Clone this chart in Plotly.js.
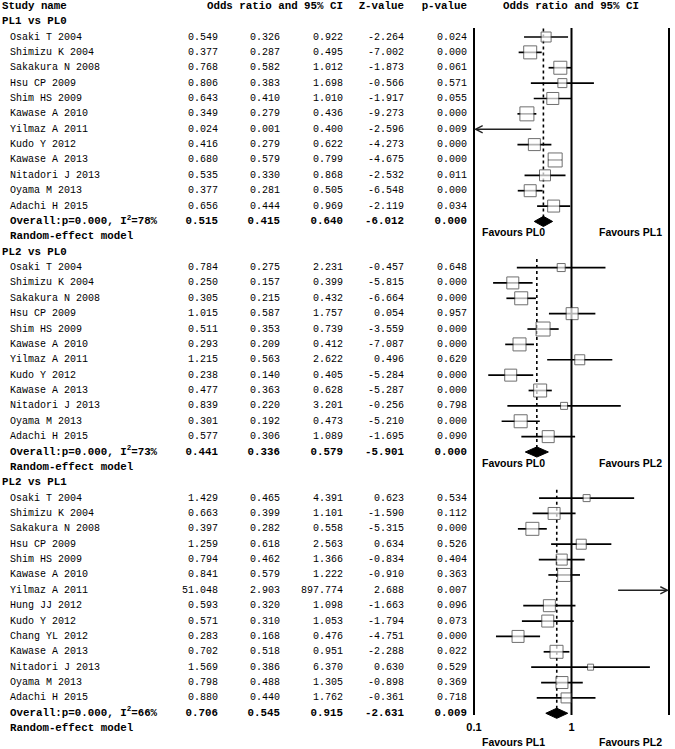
<!DOCTYPE html>
<html><head><meta charset="utf-8">
<script src="https://cdn.plot.ly/plotly-3.0.1.min.js"></script>
<style>html,body{margin:0;padding:0;background:#fff}#chart{width:675px;height:749px}</style>
</head><body><div id="chart"></div>
<script>
// ---------------- DATA ----------------
const groupNames = ["PL1 vs PL0", "PL2 vs PL0", "PL2 vs PL1"];

const studies1 = ["Osaki T 2004","Shimizu K 2004","Sakakura N 2008","Hsu CP 2009","Shim HS 2009","Kawase A 2010","Yilmaz A 2011","Kudo Y 2012","Kawase A 2013","Nitadori J 2013","Oyama M 2013","Adachi H 2015"];
const or1 = [0.549,0.377,0.768,0.806,0.643,0.349,0.024,0.416,0.680,0.535,0.377,0.656];
const lo1 = [0.326,0.287,0.582,0.383,0.410,0.279,0.001,0.279,0.579,0.330,0.281,0.444];
const hi1 = [0.922,0.495,1.012,1.698,1.010,0.436,0.400,0.622,0.799,0.868,0.505,0.969];
const z1  = [-2.264,-7.002,-1.873,-0.566,-1.917,-9.273,-2.596,-4.273,-4.675,-2.532,-6.548,-2.119];
const p1  = [0.024,0.000,0.061,0.571,0.055,0.000,0.009,0.000,0.000,0.011,0.000,0.034];
const weight1 = [9.2,15.5,15.5,7.4,13.2,18.0,1.0,13.2,18.0,11.1,13.2,13.2];

const studies2 = ["Osaki T 2004","Shimizu K 2004","Sakakura N 2008","Hsu CP 2009","Shim HS 2009","Kawase A 2010","Yilmaz A 2011","Kudo Y 2012","Kawase A 2013","Nitadori J 2013","Oyama M 2013","Adachi H 2015"];
const or2 = [0.784,0.250,0.305,1.015,0.511,0.293,1.215,0.238,0.477,0.839,0.301,0.577];
const lo2 = [0.275,0.157,0.215,0.587,0.353,0.209,0.563,0.140,0.363,0.220,0.192,0.306];
const hi2 = [2.231,0.399,0.432,1.757,0.739,0.412,2.622,0.405,0.628,3.201,0.473,1.089];
const z2  = [-0.457,-5.815,-6.664,0.054,-3.559,-7.087,0.496,-5.284,-5.287,-0.256,-5.210,-1.695];
const p2  = [0.648,0.000,0.000,0.957,0.000,0.000,0.620,0.000,0.000,0.798,0.000,0.090];
const weight2 = [5.9,13.2,15.5,13.2,18.0,15.5,9.2,13.2,15.5,4.5,15.5,13.2];

const studies3 = ["Osaki T 2004","Shimizu K 2004","Sakakura N 2008","Hsu CP 2009","Shim HS 2009","Kawase A 2010","Yilmaz A 2011","Hung JJ 2012","Kudo Y 2012","Chang YL 2012","Kawase A 2013","Nitadori J 2013","Oyama M 2013","Adachi H 2015"];
const or3 = [1.429,0.663,0.397,1.259,0.794,0.841,51.048,0.593,0.571,0.283,0.702,1.569,0.798,0.880];
const lo3 = [0.465,0.399,0.282,0.618,0.462,0.579,2.903,0.320,0.310,0.168,0.518,0.386,0.488,0.440];
const hi3 = [4.391,1.101,0.558,2.563,1.366,1.222,897.774,1.098,1.053,0.476,0.951,6.370,1.305,1.762];
const z3  = [0.623,-1.590,-5.315,0.634,-0.834,-0.910,2.688,-1.663,-1.794,-4.751,-2.288,0.630,-0.898,-0.361];
const p3  = [0.534,0.112,0.000,0.526,0.404,0.363,0.007,0.096,0.073,0.000,0.022,0.529,0.369,0.718];
const weight3 = [4.5,13.2,15.5,9.2,11.1,15.5,1.0,13.2,13.2,13.2,15.5,3.3,13.2,9.2];

const overallOR = [0.515,0.441,0.706];
const overallLo = [0.415,0.336,0.545];
const overallHi = [0.640,0.579,0.915];
const overallZ  = [-6.012,-5.901,-2.631];
const overallP  = [0.000,0.000,0.009];
const heterogeneityP = [0.000,0.000,0.000];
const overallI2 = [78,73,66];

const favoursLeft  = ["Favours PL0","Favours PL0","Favours PL1"];
const favoursRight = ["Favours PL1","Favours PL2","Favours PL2"];

const headerLabels = ["Study name","Odds ratio and 95% CI","Z-value","p-value","Odds ratio and 95% CI"];
const axisTicks = [0.1, 1, 10];
const axisTickText = ["0.1","1","10"];

// ---------------- LAYOUT HELPERS ----------------
const W = 675, H = 749;
const rowPx0 = 37, rowStep = 15.37;               // row 3 centre & spacing (px)
const rowFromPx = px => 3 + (px - rowPx0) / rowStep;
const yTop = rowFromPx(0), yBot = rowFromPx(H);
const MONO = "Liberation Mono, Courier New, monospace";
const SANS = "Liberation Sans, Arial, sans-serif";
const colRight = [218, 280, 343, 404, 467];          // right edges of numeric columns
const xLogMin = -1.041, xLogMax = 1.041;              // axis range (log10)
const fmt = v => v.toFixed(3);

const groups = [
  {names: studies1, or: or1, lo: lo1, hi: hi1, z: z1, p: p1, w: weight1},
  {names: studies2, or: or2, lo: lo2, hi: hi2, z: z2, p: p2, w: weight2},
  {names: studies3, or: or3, lo: lo3, hi: hi3, z: z3, p: p3, w: weight3}
];

const nameReg = {x: [], y: [], t: []};
const nameBold = {x: [], y: [], t: []};
const numReg = {x: [], y: [], t: []};
const numBold = {x: [], y: [], t: []};

const ciX = [], ciY = [];
const sqX = [], sqY = [], sqS = [];
const dmX = [], dmY = [];
const dotX = [], dotY = [];
const annotations = [];

nameBold.x.push(2); nameBold.y.push(1); nameBold.t.push(headerLabels[0]);
[[headerLabels[1], colRight[2]], [headerLabels[2], colRight[3]], [headerLabels[3], colRight[4]]].forEach(([t, x]) => {
  numBold.x.push(x); numBold.y.push(1); numBold.t.push(t);
});

const arrowStyle = {xref: 'x', yref: 'y', axref: 'x', ayref: 'y', text: '', showarrow: true,
  arrowhead: 5, arrowsize: 1, arrowwidth: 1.4, arrowcolor: '#222', standoff: 0, startstandoff: 0};

let row = 2;
groups.forEach((g, gi) => {
  nameBold.x.push(2); nameBold.y.push(row); nameBold.t.push(groupNames[gi]);
  row++;
  const firstRow = row;
  g.names.forEach((nm, i) => {
    nameReg.x.push(10); nameReg.y.push(row); nameReg.t.push(nm);
    [g.or[i], g.lo[i], g.hi[i], g.z[i], g.p[i]].forEach((v, c) => {
      numReg.x.push(colRight[c]); numReg.y.push(row); numReg.t.push(fmt(v));
    });
    const lo = g.lo[i], hi = g.hi[i];
    const lLo = Math.log10(lo), lHi = Math.log10(hi);
    if (lLo < -1) {
      annotations.push({...arrowStyle, x: -1, y: row, ax: lHi, ay: row});
    } else if (lHi > 1) {
      annotations.push({...arrowStyle, x: 1, y: row, ax: lLo, ay: row});
    } else {
      ciX.push(lo, hi, null); ciY.push(row, row, null);
    }
    sqX.push(g.or[i]); sqY.push(row); sqS.push(3.3 * Math.sqrt(g.w[i]));
    row++;
  });
  nameBold.x.push(10); nameBold.y.push(row);
  nameBold.t.push("Overall:p=" + fmt(heterogeneityP[gi]) + ", I<sup>2</sup>=" + overallI2[gi] + "%");
  [overallOR[gi], overallLo[gi], overallHi[gi], overallZ[gi], overallP[gi]].forEach((v, c) => {
    numBold.x.push(colRight[c]); numBold.y.push(row); numBold.t.push(fmt(v));
  });
  const hh = 0.33;
  dmX.push(overallLo[gi], overallOR[gi], overallHi[gi], overallOR[gi], overallLo[gi], null);
  dmY.push(row, row - hh, row, row + hh, row, null);
  dotX.push(overallOR[gi], overallOR[gi], null);
  dotY.push(firstRow - 0.55, row, null);
  row++;
  nameBold.x.push(10); nameBold.y.push(row); nameBold.t.push("Random-effect model");
  const favY = gi < 2 ? { yref: 'y', y: row - 0.3 } : { yref: 'paper', y: 1 - 742 / H };
  const favFont = {family: SANS, size: 10.5, color: '#000', weight: 'bold'};
  annotations.push({xref: 'x', x: -0.6, ...favY, text: favoursLeft[gi], showarrow: false,
    font: favFont, xanchor: 'center', yanchor: 'middle'});
  annotations.push({xref: 'x', x: 0.6, ...favY, text: favoursRight[gi], showarrow: false,
    font: favFont, xanchor: 'center', yanchor: 'middle'});
  row++;
});

const refTop = rowFromPx(28), refBot = rowFromPx(715);
const refX = [], refY = [];
axisTicks.forEach(t => { refX.push(t, t, null); refY.push(refTop, refBot, null); });

const textTrace = (c, pos, size, bold) => ({
  type: 'scatter', mode: 'text', xaxis: 'x2', yaxis: 'y', x: c.x, y: c.y, text: c.t,
  textposition: pos, hoverinfo: 'skip', cliponaxis: false,
  textfont: {family: MONO, size: size, color: '#000', weight: bold ? 'bold' : 'normal'}
});

const traces = [
  textTrace(nameReg, 'middle right', 10, false),
  textTrace(nameBold, 'middle right', 10.8, true),
  textTrace(numReg, 'middle left', 10, false),
  textTrace(numBold, 'middle left', 10.8, true),
  {type: 'scatter', mode: 'text', xaxis: 'x2', yaxis: 'y', x: [571], y: [1], text: [headerLabels[4]],
   textposition: 'middle center', hoverinfo: 'skip', cliponaxis: false,
   textfont: {family: MONO, size: 10.8, color: '#000', weight: 'bold'}},
  {type: 'scatter', mode: 'lines', x: refX, y: refY, line: {color: '#000', width: 2}, hoverinfo: 'skip'},
  {type: 'scatter', mode: 'lines', x: dotX, y: dotY, line: {color: '#000', width: 1.6, dash: 'dot'}, hoverinfo: 'skip'},
  {type: 'scatter', mode: 'lines', x: ciX, y: ciY, line: {color: '#000', width: 1.7}, hoverinfo: 'skip'},
  {type: 'scatter', mode: 'markers', x: sqX, y: sqY,
   marker: {symbol: 'square', size: sqS, color: '#fff', line: {color: '#333', width: 1}}, hoverinfo: 'skip'},
  {type: 'scatter', mode: 'lines', x: dmX, y: dmY, fill: 'toself', fillcolor: '#000',
   line: {color: '#000', width: 1}, hoverinfo: 'skip'}
];

const layout = {
  width: W, height: H, margin: {l: 0, r: 0, t: 0, b: 0},
  paper_bgcolor: '#fff', plot_bgcolor: 'rgba(0,0,0,0)', showlegend: false,
  xaxis: {type: 'log', domain: [470 / W, 673 / W], range: [xLogMin, xLogMax],
    anchor: 'free', position: 1 - 719 / H, showgrid: false, zeroline: false, showline: false,
    ticks: '', tickvals: axisTicks, ticktext: axisTickText,
    tickfont: {family: SANS, size: 11, color: '#000', weight: 'bold'}, fixedrange: true},
  xaxis2: {domain: [0, 1], range: [0, W], visible: false, anchor: 'y', fixedrange: true},
  yaxis: {domain: [0, 1], range: [yBot, yTop], visible: false, fixedrange: true},
  annotations: annotations
};

Plotly.newPlot('chart', traces, layout, {displayModeBar: false, staticPlot: true});
</script>
</body></html>
